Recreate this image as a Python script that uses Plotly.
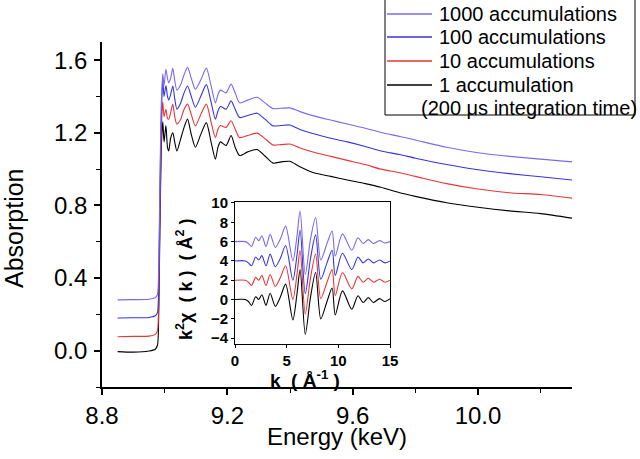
import plotly.graph_objects as go

W, H = 640, 459

# ---------------- main XANES data ----------------
energy = [8.85, 8.90, 8.95, 8.970, 8.977, 8.981, 8.984, 8.987, 8.990, 8.994,
          8.998, 9.004, 9.009, 9.013, 9.019, 9.026, 9.032, 9.039, 9.050, 9.062,
          9.073, 9.085, 9.098, 9.115, 9.133, 9.148, 9.162, 9.170, 9.178, 9.196,
          9.212, 9.225, 9.239, 9.265, 9.295, 9.320, 9.346, 9.372, 9.399, 9.430,
          9.476, 9.530, 9.583, 9.640, 9.690, 9.750, 9.800, 9.900, 10.000, 10.100,
          10.200, 10.300]

abs_1000 = [0.280, 0.281, 0.283, 0.292, 0.310, 0.470, 0.820, 1.170, 1.400, 1.525,
            1.460, 1.550, 1.500, 1.475, 1.500, 1.555, 1.490, 1.435, 1.460, 1.520,
            1.560, 1.500, 1.440, 1.490, 1.556, 1.460, 1.365, 1.410, 1.435, 1.420,
            1.468, 1.420, 1.365, 1.380, 1.396, 1.365, 1.333, 1.335, 1.337, 1.318,
            1.293, 1.270, 1.248, 1.225, 1.202, 1.180, 1.160, 1.120, 1.090, 1.070,
            1.055, 1.040]

abs_100 = [0.180, 0.181, 0.183, 0.192, 0.210, 0.380, 0.740, 1.090, 1.330, 1.490,
           1.400, 1.460, 1.400, 1.380, 1.410, 1.458, 1.390, 1.330, 1.360, 1.420,
           1.458, 1.400, 1.340, 1.400, 1.465, 1.370, 1.275, 1.320, 1.345, 1.330,
           1.376, 1.330, 1.284, 1.295, 1.308, 1.275, 1.238, 1.240, 1.243, 1.220,
           1.195, 1.170, 1.150, 1.125, 1.100, 1.080, 1.060, 1.025, 0.996, 0.975,
           0.958, 0.940]

abs_10 = [0.077, 0.079, 0.080, 0.090, 0.110, 0.290, 0.650, 1.000, 1.250, 1.370,
          1.290, 1.330, 1.280, 1.275, 1.310, 1.358, 1.290, 1.248, 1.270, 1.330,
          1.358, 1.300, 1.238, 1.300, 1.358, 1.260, 1.174, 1.220, 1.240, 1.230,
          1.266, 1.220, 1.174, 1.185, 1.198, 1.168, 1.133, 1.135, 1.138, 1.118,
          1.093, 1.070, 1.048, 1.025, 1.000, 0.980, 0.960, 0.920, 0.890, 0.870,
          0.860, 0.840]

abs_1 = [-0.005, -0.008, -0.002, 0.008, 0.030, 0.200, 0.560, 0.900, 1.150, 1.260,
         1.150, 1.240, 1.120, 1.100, 1.170, 1.200, 1.150, 1.100, 1.160, 1.230,
         1.275, 1.190, 1.120, 1.190, 1.256, 1.150, 1.055, 1.120, 1.150, 1.130,
         1.185, 1.120, 1.075, 1.095, 1.108, 1.072, 1.033, 1.040, 1.043, 1.015,
         0.980, 0.960, 0.940, 0.920, 0.900, 0.870, 0.850, 0.815, 0.790, 0.770,
         0.755, 0.730]

# ---------------- inset EXAFS data ----------------
k_vals = [0, 1.0, 1.3, 1.6, 2.0, 2.3, 2.6, 3.0, 3.4, 3.9, 4.4, 4.9, 5.6, 6.0,
          6.3, 6.8, 7.3, 7.8, 8.3, 8.9, 9.4, 9.7, 10.4, 11.3, 11.9, 12.4, 12.9,
          13.4, 14.0, 14.5, 15.0]

chi_1 = [0, 0, -0.2, -0.6, 0.3, 0.0, 0.5, -0.6, 0.65, -0.7, 0.3, 1.6, -2.1, 0.6,
         3.1, -3.6, 0.2, 2.8, -2.0, -0.2, 1.2, -1.6, 0.9, -1.0, 0.4, -0.3, 0.2,
         -0.3, 0.1, -0.2, 0.1]
chi_10 = [2, 2, 1.8, 1.45, 2.3, 2.0, 2.5, 1.45, 2.6, 1.35, 2.3, 3.5, 0.0, 2.6,
          5.1, -1.5, 2.2, 4.7, 0.1, 1.8, 3.1, 0.4, 2.8, 1.1, 2.4, 1.8, 2.2,
          1.8, 2.1, 1.8, 2.0]
chi_100 = [4, 4, 3.8, 3.5, 4.4, 4.1, 4.55, 3.5, 4.7, 3.4, 4.3, 5.6, 2.0, 4.6,
           7.2, 0.6, 4.2, 6.7, 2.1, 3.8, 5.1, 2.5, 4.8, 3.1, 4.4, 3.8, 4.2,
           3.8, 4.1, 3.8, 4.0]
chi_1000 = [6, 6, 5.8, 5.5, 6.45, 6.1, 6.6, 5.5, 6.75, 5.4, 6.3, 7.6, 4.0, 6.6,
            9.2, 2.6, 6.2, 8.5, 4.1, 5.8, 7.1, 4.5, 6.8, 5.1, 6.4, 5.8, 6.2,
            5.8, 6.1, 5.85, 6.0]

series_names = ["1000 accumulations", "100 accumulations", "10 accumulations", "1 accumulation"]
series_colors = ["#7B68EE", "#3535E0", "#E83535", "#000000"]
note_text = "(200 \u03bcs integration time)"

main_series = [abs_1000, abs_100, abs_10, abs_1]
inset_series = [chi_1000, chi_100, chi_10, chi_1]

FONT = "Arial, Liberation Sans, sans-serif"


def px(x):
    return x / W


def py(y):
    return 1 - y / H


fig = go.Figure()

for name, col, ys in reversed(list(zip(series_names, series_colors, main_series))):
    fig.add_trace(go.Scatter(x=energy, y=ys, mode="lines", name=name,
                             line=dict(color=col, width=1.1, shape="spline", smoothing=0.7),
                             showlegend=False, xaxis="x", yaxis="y"))

for name, col, ys in reversed(list(zip(series_names, series_colors, inset_series))):
    fig.add_trace(go.Scatter(x=k_vals, y=ys, mode="lines", name=name,
                             line=dict(color=col, width=1.1, shape="spline", smoothing=0.8),
                             showlegend=False, xaxis="x2", yaxis="y2"))

axis_common = dict(showline=True, linecolor="black", showgrid=False, zeroline=False,
                   ticks="outside", tickcolor="black", automargin=False)

fig.update_layout(
    width=W, height=H,
    margin=dict(l=0, r=0, t=0, b=0, pad=0),
    paper_bgcolor="white", plot_bgcolor="white",
    font=dict(family=FONT, color="black"),
    xaxis=dict(domain=[px(102), px(572)], range=[8.8, 10.3], anchor="y",
               tick0=8.8, dtick=0.4, tickformat=".1f", linewidth=1.6, tickwidth=1.6,
               ticklen=6, tickfont=dict(size=24, family=FONT),
               minor=dict(dtick=0.2, tick0=8.8, ticks="outside", ticklen=4,
                          tickwidth=1.4, tickcolor="black"),
               **axis_common),
    yaxis=dict(domain=[py(387), py(42)], range=[-0.2, 1.7], anchor="x",
               tick0=0, dtick=0.4, tickformat=".1f", linewidth=1.6, tickwidth=1.6,
               ticklen=6, ticklabelstandoff=2, tickfont=dict(size=24, family=FONT),
               minor=dict(dtick=0.2, tick0=0, ticks="outside", ticklen=4,
                          tickwidth=1.4, tickcolor="black"),
               **axis_common),
    xaxis2=dict(domain=[px(235), px(390)], range=[0, 15], anchor="y2",
                tick0=0, dtick=5, linewidth=1, tickwidth=1, ticklen=3, mirror=True,
                tickfont=dict(size=15, family=FONT, weight="bold"),
                **axis_common),
    yaxis2=dict(domain=[py(344), py(202)], range=[-4.6, 10.1], anchor="x2",
                tick0=0, dtick=2, linewidth=1, tickwidth=1, ticklen=3, mirror=True,
                tickfont=dict(size=15, family=FONT, weight="bold"),
                **axis_common),
)

annotations = [
    dict(text="Absorption", x=px(14), y=py(228), xref="paper", yref="paper",
         textangle=-90, showarrow=False, font=dict(size=25, family=FONT),
         xanchor="center", yanchor="middle"),
    dict(text="Energy (keV)", x=px(337), y=py(436), xref="paper", yref="paper",
         showarrow=False, font=dict(size=24, family=FONT),
         xanchor="center", yanchor="middle"),
    dict(text="k<sup>2</sup>\u03c7  ( k )  ( \u00c5<sup>2</sup> )", x=px(184), y=py(280),
         xref="paper", yref="paper", textangle=-90, showarrow=False,
         font=dict(size=18, family=FONT, weight="bold"),
         xanchor="center", yanchor="middle"),
    dict(text="k  ( \u00c5<sup>-1</sup> )", x=px(305), y=py(379), xref="paper", yref="paper",
         showarrow=False, font=dict(size=19, family=FONT, weight="bold"),
         xanchor="center", yanchor="middle"),
]

# manual legend box
shapes = [dict(type="rect", xref="paper", yref="paper", x0=px(385), x1=px(635),
               y0=py(115), y1=py(-2), line=dict(color="black", width=1),
               fillcolor="white", layer="above")]
row_y = [14, 37, 61, 85]
for name, col, ry in zip(series_names, series_colors, row_y):
    shapes.append(dict(type="line", xref="paper", yref="paper", x0=px(387), x1=px(432),
                       y0=py(ry), y1=py(ry), line=dict(color=col, width=1.3), layer="above"))
    annotations.append(dict(text=name, x=px(437), y=py(ry), xref="paper", yref="paper",
                            showarrow=False, xanchor="left", yanchor="middle",
                            font=dict(size=20, family=FONT)))
annotations.append(dict(text=note_text, x=px(419), y=py(108), xref="paper", yref="paper",
                        showarrow=False, xanchor="left", yanchor="middle",
                        font=dict(size=20, family=FONT)))

fig.update_layout(annotations=annotations, shapes=shapes)

fig.write_html("out.html", config={"displayModeBar": False},
               post_script="document.body.style.margin='0px';"
                           "document.documentElement.style.overflow='hidden';")
